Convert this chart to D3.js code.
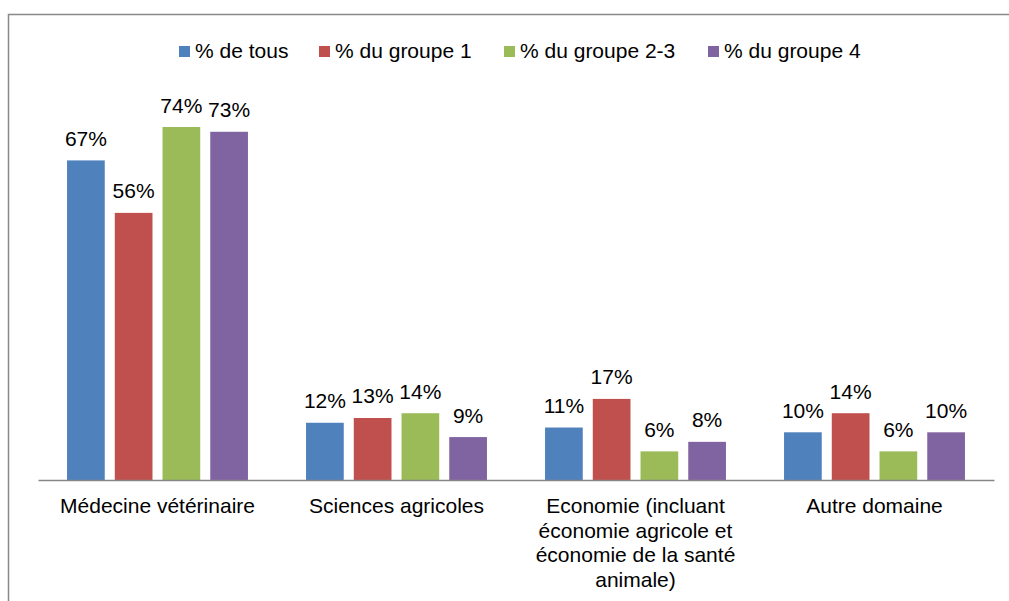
<!DOCTYPE html>
<html><head><meta charset="utf-8">
<script src="https://cdn.jsdelivr.net/npm/d3@7"></script>
<style>body{margin:0;background:#fff}svg{display:block}text{font-family:"Liberation Sans",Arial,sans-serif;fill:#000}</style>
</head><body>
<script>
const categories = ["Médecine vétérinaire", "Sciences agricoles", "Economie (incluant\néconomie agricole et\néconomie de la santé\nanimale)", "Autre domaine"];
const seriesNames = ["% de tous", "% du groupe 1", "% du groupe 2-3", "% du groupe 4"];
const deTous = [67, 12, 11, 10];
const groupe1 = [56, 13, 17, 14];
const groupe23 = [74, 14, 6, 6];
const groupe4 = [73, 9, 8, 10];
const colors = ["#4F81BD", "#C0504D", "#9BBB59", "#8064A2"];

const seriesValues = [deTous, groupe1, groupe23, groupe4];
const W = 1009, H = 601;
const svg = d3.select("body").append("svg").attr("width", W).attr("height", H);

// frame
svg.append("rect").attr("x", 8.5).attr("y", 14.5).attr("width", 1020).attr("height", 620)
  .attr("fill", "none").attr("stroke", "#898989").attr("stroke-width", 1.5);

const baseY = 480;
const x0 = d3.scaleBand().domain(categories).range([38, 994]).paddingInner(0.243).paddingOuter(0.1215);
const x1 = d3.scaleBand().domain(seriesNames).range([0, x0.bandwidth()]).paddingInner(0.21).paddingOuter(0);
const y = d3.scaleLinear().domain([0, 80]).range([baseY, 98.4]);

const fs = 21;
const groups = svg.append("g").selectAll("g").data(categories).join("g")
  .attr("transform", d => `translate(${x0(d)},0)`);

groups.each(function(cat, ci) {
  const g = d3.select(this);
  seriesNames.forEach((s, si) => {
    const v = seriesValues[si][ci];
    g.append("rect").attr("x", x1(s)).attr("y", y(v)).attr("width", x1.bandwidth())
      .attr("height", baseY - y(v)).attr("fill", colors[si]);
    g.append("text").attr("x", x1(s) + x1.bandwidth() / 2).attr("y", y(v) - 14.5)
      .attr("text-anchor", "middle").attr("font-size", fs).text(v + "%");
  });
});

// x axis
const xAxis = d3.axisBottom(x0).tickSize(0).tickFormat("");
const axg = svg.append("g").attr("transform", `translate(0,${baseY})`).call(xAxis);
axg.select(".domain").attr("stroke", "#878787").attr("stroke-width", 1.5);

categories.forEach(c => {
  const lines = c.split("\n");
  const t = svg.append("text").attr("text-anchor", "middle").attr("font-size", fs)
    .attr("x", x0(c) + x0.bandwidth() / 2).attr("y", 513);
  lines.forEach((l, i) => t.append("tspan").attr("x", x0(c) + x0.bandwidth() / 2).attr("dy", i === 0 ? 0 : 24.5).text(l));
});

// legend
const legX = [179, 319, 504, 708];
const leg = svg.append("g");
seriesNames.forEach((s, i) => {
  leg.append("rect").attr("x", legX[i]).attr("y", 46).attr("width", 11).attr("height", 11).attr("fill", colors[i]);
  leg.append("text").attr("x", legX[i] + 16).attr("y", 58).attr("font-size", fs).text(s);
});
</script>
</body></html>
